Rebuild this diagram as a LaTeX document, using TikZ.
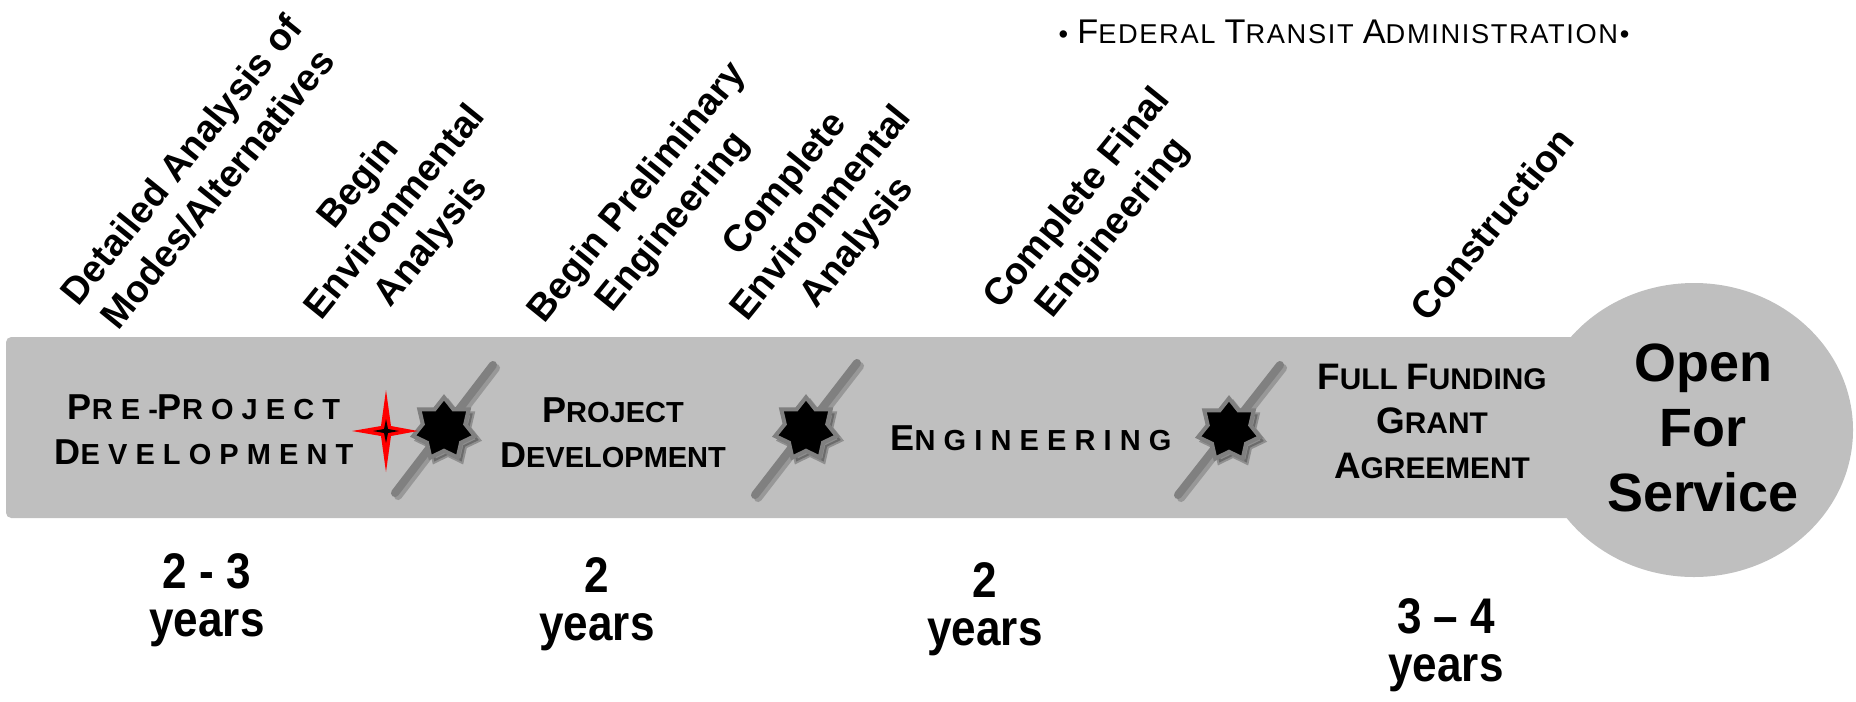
\documentclass[tikz,border=0pt]{standalone}
\usepackage{fontspec}
\setmainfont{Liberation Sans}
\newfontfamily\narrowfont[FakeStretch=0.88]{Liberation Sans}
\usetikzlibrary{shapes.geometric,calc}

\definecolor{bandgray}{RGB}{191,191,191}
\definecolor{linegray}{RGB}{128,128,128}

% first letter big, rest small (fake small caps)
\newcommand\capw[3][20.5pt]{{\fontsize{#1}{10pt}\selectfont #2}#3}

\begin{document}
\begin{tikzpicture}[x=0.02cm,y=-0.02cm,
  rotlabel/.style={rotate=51,align=center,font=\fontsize{21.5pt}{26.5pt}\selectfont\bfseries},
  phase/.style={align=center,font=\fontsize{16.5pt}{25.6pt}\selectfont\bfseries},
  spaced/.style={align=center,font=\fontsize{16.5pt}{25.6pt}\selectfont\bfseries\addfontfeature{LetterSpace=28}},
  duration/.style={align=center,font=\narrowfont\fontsize{28.5pt}{27.3pt}\selectfont\bfseries},
  breakline/.style={draw=linegray,line width=4.6pt,line cap=round},
  milestar/.style={star,star points=7,star point ratio=1.45,minimum size=36pt,inner sep=0pt,fill=black,draw=linegray,line width=2.3pt}]

\useasboundingbox (0,0) rectangle (1856,701);

% timeline band and the end bubble
\fill[bandgray,rounded corners=3pt] (6,337) rectangle (1650,518);
\fill[bandgray] (1694,430) ellipse [x radius=159,y radius=147];

% breaks in the timeline with milestone stars
\foreach \lo/\hi [count=\i] in {{395,493}/{493,365},{755,495}/{857,363},{1178,495}/{1280,365}} {
  \coordinate (brk\i lo) at (\lo);
  \coordinate (brk\i hi) at (\hi);
  \draw[breakline,draw=black,opacity=.2] ($(brk\i lo)+(3,3)$) -- ($(brk\i hi)+(3,3)$);
  \draw[breakline] (brk\i lo) -- (brk\i hi);
  \node[milestar,fill=black,draw=black,opacity=.25] (ms\i sh) at ($(brk\i lo)!.5!(brk\i hi)+(4,4)$) {};
  \node[milestar] (ms\i) at ($(brk\i lo)!.5!(brk\i hi)$) {};
}

% red marker: we are here
\fill[red] (386,390) -- (391,426) -- (418,431) -- (391,436) -- (386,472) -- (381,436) -- (352,431) -- (381,426) -- cycle;
\fill[black] (386,419) -- (388,429) -- (399,431) -- (388,433) -- (386,443) -- (384,433) -- (373,431) -- (384,429) -- cycle;

% milestones above the band
\node[rotlabel] (detailed) at (199,174) {Detailed Analysis of\\Modes/Alternatives};
\node[rotlabel] (beginenv) at (396,213) {Begin\\Environmental\\Analysis};
\node[rotlabel] (beginpe) at (656,208) {Begin Preliminary\\Engineering};
\node[rotlabel] (compenv) at (822,214) {Complete\\Environmental\\Analysis};
\node[rotlabel] (compfe) at (1096,214) {Complete Final\\Engineering};
\node[rotlabel] (constr) at (1492,224) {Construction};

% phases inside the band
\node[spaced] (prepd) at (204,430) {\capw{P}{RE-}\capw{P}{ROJECT}\\\capw{D}{EVELOPMENT}};
\node[phase] (projd) at (613,433) {\capw{P}{ROJECT}\\\capw{D}{EVELOPMENT}};
\node[spaced] (eng) at (1031,438) {\capw{E}{NGINEERING}};
\node[phase,font=\fontsize{17pt}{25.3pt}\selectfont\bfseries] (ffga) at (1432,421)
  {\capw[21pt]{F}{ULL} \capw[21pt]{F}{UNDING}\\\capw[21pt]{G}{RANT}\\\capw[21pt]{A}{GREEMENT}};
\node[align=center,font=\fontsize{30.7pt}{37pt}\selectfont\bfseries] (open) at (1703,428) {Open\\For\\Service};

% durations below the band
\node[duration] (dur1) at (207,600) {2 - 3\\years};
\node[duration] (dur2) at (597,604) {2\\years};
\node[duration] (dur3) at (985,609) {2\\years};
\node[duration] (dur4) at (1446,645) {3 – 4\\years};

\node[font=\fontsize{15.5pt}{18pt}\selectfont\addfontfeature{LetterSpace=6}] (fta) at (1344,32)
  {\textbullet\ \capw[19.5pt]{F}{EDERAL} \capw[19.5pt]{T}{RANSIT} \capw[19.5pt]{A}{DMINISTRATION}\textbullet};

\end{tikzpicture}
\end{document}
